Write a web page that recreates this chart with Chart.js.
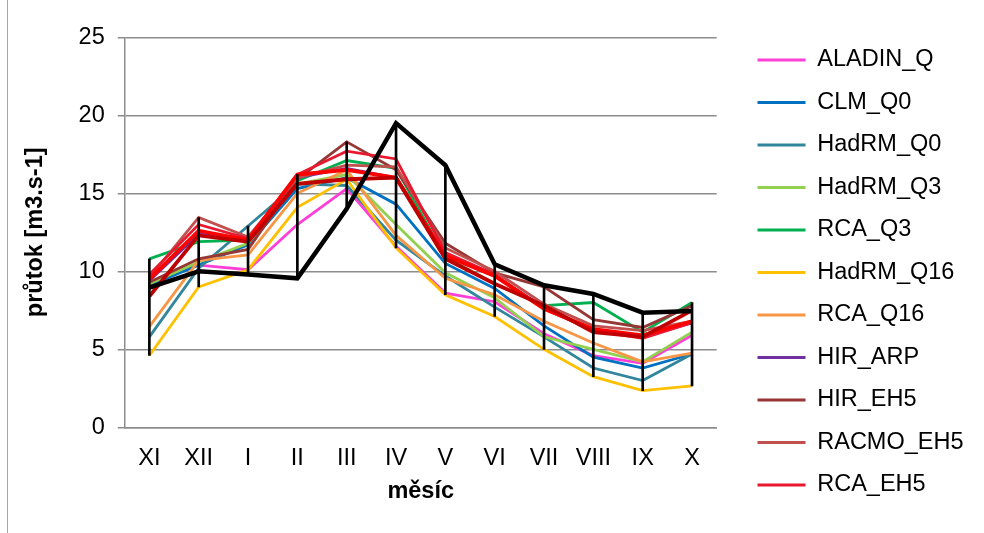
<!DOCTYPE html>
<html>
<head>
<meta charset="utf-8">
<script src="https://cdn.jsdelivr.net/npm/chart.js"></script>
<style>
  body { margin: 0; background: #fff; }
  #wrap { position: relative; width: 984px; height: 533px; }
  #frame { position: absolute; left: 7px; top: 0; width: 1px; height: 533px; background: #a6a6a6; }
</style>
</head>
<body>
<div id="wrap">
  <canvas id="graf" width="984" height="533"></canvas>
  <div id="frame"></div>
</div>
<script>
// mesice (hydrologicky rok XI - X)
var mesice = ["XI", "XII", "I", "II", "III", "IV", "V", "VI", "VII", "VIII", "IX", "X"];

// modelove rady
var ALADIN_Q  = [9.3, 10.4, 10.1, 13.0, 15.3, 11.6, 8.6, 8.05, 6.0, 4.6, 4.1, 5.9];
var CLM_Q0    = [9.1, 10.4, 11.7, 15.3, 16.0, 14.3, 10.5, 8.9, 6.5, 4.5, 3.8, 4.7];
var HadRM_Q0  = [5.8, 10.2, 12.9, 15.6, 15.5, 12.0, 9.7, 7.7, 5.8, 3.8, 3.0, 4.7];
var HadRM_Q3  = [9.2, 10.6, 11.8, 15.6, 16.2, 13.0, 9.9, 8.3, 5.8, 5.0, 4.2, 6.1];
var RCA_Q3    = [10.8, 11.9, 12.0, 15.8, 17.1, 16.6, 10.9, 9.2, 7.8, 8.0, 6.1, 8.0];
var HadRM_Q16 = [4.6, 9.0, 10.1, 14.1, 15.9, 11.5, 8.5, 7.1, 5.0, 3.25, 2.35, 2.65];
var RCA_Q16   = [6.45, 10.7, 11.05, 15.0, 16.5, 12.3, 9.55, 8.5, 6.8, 5.4, 4.2, 4.75];
var HIR_ARP   = [9.4, 12.4, 12.0, 16.0, 16.6, 16.0, 11.0, 9.7, 7.7, 6.2, 5.8, 6.7];
var HIR_EH5   = [9.3, 10.8, 11.4, 15.9, 18.3, 16.5, 11.8, 9.9, 9.0, 6.9, 6.4, 7.8];
var RACMO_EH5 = [9.6, 13.45, 12.2, 16.0, 16.8, 16.7, 11.5, 10.0, 7.9, 6.5, 6.2, 6.8];
var RCA_EH5   = [9.8, 13.0, 12.1, 16.2, 17.7, 17.2, 11.2, 9.8, 7.6, 6.2, 5.7, 6.7];
// dalsi rady bez polozky v legende
var rada_a    = [9.5, 12.6, 12.0, 16.2, 16.5, 16.0, 11.0, 9.7, 7.6, 6.3, 5.9, 6.8];
var rada_b    = [8.4, 12.3, 11.9, 15.6, 15.9, 16.0, 10.8, 9.2, 7.8, 6.1, 5.8, 7.5];
// pozorovani
var pozorovano = [8.95, 10.0, 9.8, 9.55, 14.0, 19.5, 16.8, 10.45, 9.1, 8.55, 7.35, 7.45];

var yTicks = [0, 5, 10, 15, 20, 25];

var nazvy = ["ALADIN_Q", "CLM_Q0", "HadRM_Q0", "HadRM_Q3", "RCA_Q3", "HadRM_Q16", "RCA_Q16", "HIR_ARP", "HIR_EH5", "RACMO_EH5", "RCA_EH5"];
var rady = [ALADIN_Q, CLM_Q0, HadRM_Q0, HadRM_Q3, RCA_Q3, HadRM_Q16, RCA_Q16, HIR_ARP, HIR_EH5, RACMO_EH5, RCA_EH5];
var barvy = ["#FF3FD6", "#0070C0", "#31859C", "#92D050", "#00B050", "#FFC000", "#F79646", "#7030A0", "#953735", "#C0504D", "#E8192F"];

var datasets = [];
for (var i = 0; i < nazvy.length; i++) {
  datasets.push({
    type: 'line', label: nazvy[i], data: rady[i],
    borderColor: barvy[i], backgroundColor: barvy[i],
    borderWidth: 2.8, pointRadius: 0, tension: 0, fill: false,
    xAxisID: 'x', yAxisID: 'y', order: 30 - i
  });
}
datasets.push({ type: 'line', label: 'a', data: rada_a, borderColor: '#FF0000', backgroundColor: '#FF0000',
  borderWidth: 3.8, pointRadius: 0, tension: 0, fill: false, xAxisID: 'x', yAxisID: 'y', order: 5 });
datasets.push({ type: 'line', label: 'b', data: rada_b, borderColor: '#C00000', backgroundColor: '#C00000',
  borderWidth: 3.8, pointRadius: 0, tension: 0, fill: false, xAxisID: 'x', yAxisID: 'y', order: 4 });

// svisle cary min - max pro kazdy mesic
var vsechny = rady.concat([rada_a, rada_b, pozorovano]);
var rozsah = [];
for (var m = 0; m < mesice.length; m++) {
  var lo = 1e9, hi = -1e9;
  for (var k = 0; k < vsechny.length; k++) {
    lo = Math.min(lo, vsechny[k][m]);
    hi = Math.max(hi, vsechny[k][m]);
  }
  rozsah.push([lo, hi]);
}
datasets.push({ type: 'bar', label: 'rozsah', data: rozsah, backgroundColor: '#000', borderWidth: 0,
  barThickness: 2, grouped: false, xAxisID: 'x', yAxisID: 'y', order: 1 });

datasets.push({ type: 'line', label: 'pozorovano', data: pozorovano, borderColor: '#000', backgroundColor: '#000',
  borderWidth: 4.5, pointRadius: 0, tension: 0, fill: false, xAxisID: 'x', yAxisID: 'y', order: 0 });

Chart.defaults.font.family = 'Arial, "Liberation Sans", sans-serif';
Chart.defaults.font.size = 23.5;
Chart.defaults.color = '#000';

var ctx = document.getElementById("graf").getContext("2d");
var graf = new Chart(ctx, {
  type: 'line',
  data: { labels: mesice, datasets: datasets },
  options: {
    responsive: false,
    animation: false,
    layout: { padding: { top: 12, left: 8, right: 10.5, bottom: 0 } },
    plugins: {
      tooltip: { enabled: false },
      legend: {
        position: 'right',
        align: 'center',
        maxWidth: 235,
        labels: {
          boxWidth: 48,
          boxHeight: 3,
          padding: 19,
          filter: function(item) { return item.datasetIndex < nazvy.length; },
          sort: function(a, b) { return a.datasetIndex - b.datasetIndex; },
          generateLabels: function(chart) {
            var items = Chart.defaults.plugins.legend.labels.generateLabels(chart);
            items.forEach(function(it) { it.fillStyle = it.strokeStyle; it.lineWidth = 0; });
            return items;
          }
        }
      }
    },
    scales: {
      x: {
        type: 'category',
        position: 'bottom',
        offset: true,
        grid: { display: false, drawTicks: false },
        border: { display: true, color: '#8c8c8c', width: 1.5 },
        ticks: { padding: 17.5, maxRotation: 0, autoSkip: false },
        title: { display: true, text: 'měsíc', font: { weight: 'bold' }, padding: { top: 0, bottom: 27.5 } },
        afterFit: function(s) { s.height = 105.7; }
      },
      xTop: {
        type: 'category',
        position: 'top',
        grid: { display: false },
        border: { display: false },
        ticks: { display: false },
        afterFit: function(s) { s.height = 25.3; }
      },
      y: {
        type: 'linear',
        position: 'left',
        min: 0,
        max: 25,
        afterBuildTicks: function(s) { s.ticks = yTicks.map(function(v) { return { value: v }; }); },
        grid: { color: '#8c8c8c', lineWidth: 1.5, drawTicks: true, tickLength: 7 },
        border: { display: true, color: '#8c8c8c', width: 1.5 },
        ticks: { padding: 13 },
        title: { display: true, text: 'průtok [m3.s-1]', font: { weight: 'bold' }, padding: { top: 13.6, bottom: 0 } },
        afterFit: function(s) { s.width = 116.7; }
      },
      yRight: {
        type: 'linear',
        position: 'right',
        grid: { display: false },
        border: { display: false },
        ticks: { display: false },
        afterFit: function(s) { s.width = 21.8; }
      }
    }
  }
});
</script>
</body>
</html>
